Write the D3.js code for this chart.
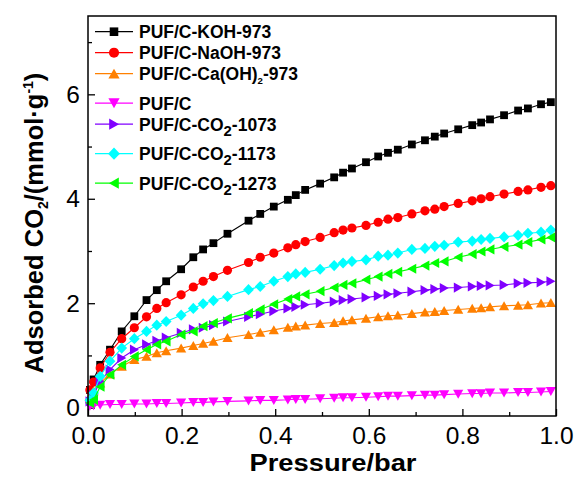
<!DOCTYPE html>
<html>
<head>
<meta charset="utf-8">
<script src="https://cdn.jsdelivr.net/npm/d3@7"></script>
<style>
  body { margin: 0; background: #fff; }
  text { font-family: Arial, "Liberation Sans", sans-serif; fill: #000; }
</style>
</head>
<body>
<svg id="chart" width="576" height="477"></svg>
<script>
// Shared pressure grid (bar)
const pressure = [0.004, 0.012, 0.026, 0.047, 0.072, 0.099, 0.125, 0.147, 0.167, 0.199,
  0.225, 0.246, 0.268, 0.298, 0.343, 0.368, 0.397, 0.427, 0.444, 0.464,
  0.496, 0.526, 0.545, 0.564, 0.594, 0.620, 0.641, 0.662, 0.692, 0.720,
  0.741, 0.761, 0.791, 0.821, 0.840, 0.859, 0.889, 0.919, 0.940, 0.968, 0.989];

// Adsorbed CO2 (mmol/g) for each sample
const kohValues = [0.34, 0.54, 0.82, 1.11, 1.46, 1.75, 2.06, 2.25, 2.42, 2.65,
  2.88, 3.03, 3.15, 3.33, 3.58, 3.71, 3.85, 3.98, 4.07, 4.17,
  4.29, 4.41, 4.50, 4.58, 4.70, 4.81, 4.88, 4.94, 5.04, 5.12,
  5.19, 5.25, 5.33, 5.41, 5.46, 5.52, 5.60, 5.69, 5.73, 5.81, 5.85];
const naohValues = [0.34, 0.49, 0.76, 1.06, 1.32, 1.53, 1.74, 1.90, 2.01, 2.16,
  2.31, 2.42, 2.51, 2.63, 2.78, 2.88, 2.96, 3.06, 3.12, 3.18,
  3.26, 3.35, 3.40, 3.44, 3.49, 3.55, 3.61, 3.64, 3.71, 3.77,
  3.80, 3.85, 3.91, 3.96, 4.00, 4.04, 4.09, 4.14, 4.17, 4.22, 4.25];
const caohValues = [0.21, 0.32, 0.47, 0.64, 0.79, 0.92, 0.98, 1.05, 1.09, 1.14,
  1.19, 1.23, 1.27, 1.34, 1.40, 1.44, 1.49, 1.54, 1.56, 1.58,
  1.61, 1.63, 1.66, 1.68, 1.71, 1.74, 1.76, 1.77, 1.80, 1.83,
  1.84, 1.86, 1.88, 1.90, 1.91, 1.93, 1.95, 1.96, 1.97, 2.00, 2.01];
const pufValues = [0.03, 0.04, 0.05, 0.06, 0.06, 0.07, 0.07, 0.08, 0.08, 0.09,
  0.10, 0.10, 0.11, 0.12, 0.13, 0.14, 0.14, 0.15, 0.16, 0.16,
  0.17, 0.18, 0.19, 0.19, 0.20, 0.21, 0.22, 0.22, 0.23, 0.24,
  0.24, 0.25, 0.26, 0.27, 0.27, 0.28, 0.28, 0.29, 0.29, 0.30, 0.31];
const co2_1073Values = [0.12, 0.24, 0.50, 0.73, 0.95, 1.11, 1.21, 1.28, 1.34, 1.43,
  1.50, 1.53, 1.58, 1.65, 1.74, 1.79, 1.85, 1.90, 1.93, 1.97,
  2.00, 2.03, 2.06, 2.08, 2.11, 2.14, 2.17, 2.19, 2.22, 2.25,
  2.27, 2.29, 2.30, 2.32, 2.33, 2.34, 2.35, 2.38, 2.39, 2.40, 2.42];
const co2_1173Values = [0.14, 0.28, 0.60, 0.89, 1.14, 1.32, 1.46, 1.58, 1.65, 1.77,
  1.90, 1.99, 2.05, 2.13, 2.26, 2.32, 2.42, 2.51, 2.56, 2.59,
  2.65, 2.72, 2.77, 2.80, 2.83, 2.90, 2.92, 2.96, 3.03, 3.05,
  3.09, 3.11, 3.17, 3.19, 3.22, 3.24, 3.27, 3.30, 3.34, 3.36, 3.40];
const co2_1273Values = [0.09, 0.15, 0.40, 0.63, 0.82, 0.98, 1.11, 1.21, 1.27, 1.40,
  1.46, 1.56, 1.62, 1.71, 1.81, 1.88, 1.98, 2.08, 2.13, 2.17,
  2.23, 2.30, 2.35, 2.38, 2.45, 2.51, 2.56, 2.60, 2.66, 2.72,
  2.77, 2.80, 2.88, 2.94, 2.99, 3.03, 3.08, 3.12, 3.17, 3.22, 3.26];

// Legend labels: [text before subscript, subscript, text after]
const seriesLabels = [
  ["PUF/C-KOH-973", "", ""],
  ["PUF/C-NaOH-973", "", ""],
  ["PUF/C-Ca(OH)", "2", "-973"],
  ["PUF/C", "", ""],
  ["PUF/C-CO", "2", "-1073"],
  ["PUF/C-CO", "2", "-1173"],
  ["PUF/C-CO", "2", "-1273"]
];
const seriesValues = [kohValues, naohValues, caohValues, pufValues,
  co2_1073Values, co2_1173Values, co2_1273Values];
const seriesColors = ["#000000", "#ff0000", "#ff8000", "#ff00ff", "#8000ff", "#00ffff", "#00ff00"];
const seriesMarkers = ["square", "circle", "up", "down", "right", "diamond", "left"];
const subscriptSizes = [0, 0, 0.55, 0, 0.85, 0.85, 0.85];

const xTicks = [0, 0.2, 0.4, 0.6, 0.8, 1.0];
const xMinorTicks = [0.1, 0.3, 0.5, 0.7, 0.9];
const yTicks = [0, 2, 4, 6];
const yMinorTicks = [1, 3, 5, 7];

(function draw() {
  const svg = d3.select("#chart");
  const pl = 88, pr = 556, pt = 16, pb = 416;

  const x = d3.scaleLinear().domain([0, 1]).range([pl, pr]);
  const y = d3.scaleLinear().domain([-0.16, 7.5]).range([pb, pt]);

  // Marker outlines, each centred on its bounding box
  function markerPath(kind) {
    switch (kind) {
      case "square": return "M-3.9,-3.9H3.9V3.9H-3.9Z";
      case "circle": return d3.symbol(d3.symbolCircle, Math.PI * 4.6 * 4.6)();
      case "up": return "M0,-4.6L5.1,4.4L-5.1,4.4Z";
      case "down": return "M0,4.6L5.1,-4.4L-5.1,-4.4Z";
      case "right": return "M4.6,0L-4.4,5.1L-4.4,-5.1Z";
      case "left": return "M-4.6,0L4.4,5.1L4.4,-5.1Z";
      case "diamond": return "M0,-5.6L5.4,0L0,5.6L-5.4,0Z";
    }
  }

  // Axes with inward ticks
  const fmt = d3.format(".1f");
  const xAxis = svg.append("g").attr("transform", `translate(0,${pb})`)
    .call(d3.axisBottom(x).tickValues(xTicks).tickSize(-7).tickPadding(10.5).tickFormat(fmt));
  svg.append("g").attr("transform", `translate(0,${pb})`)
    .call(d3.axisBottom(x).tickValues(xMinorTicks).tickSize(-4).tickFormat(""));
  const yAxis = svg.append("g").attr("transform", `translate(${pl},0)`)
    .call(d3.axisLeft(y).tickValues(yTicks).tickSize(-7).tickPadding(8).tickFormat(d3.format("d")));
  svg.append("g").attr("transform", `translate(${pl},0)`)
    .call(d3.axisLeft(y).tickValues(yMinorTicks).tickSize(-4).tickFormat(""));

  svg.selectAll(".domain").remove();
  svg.selectAll(".tick line").attr("stroke", "#000").attr("stroke-width", 1.3);
  xAxis.selectAll("text").attr("font-size", 24.5).attr("fill", "#000");
  yAxis.selectAll("text").attr("font-size", 24.5).attr("fill", "#000");

  // Series
  const plot = svg.append("g");
  seriesValues.forEach((vals, i) => {
    const pts = pressure.map((p, j) => [p, vals[j]]);
    const g = plot.append("g");
    g.append("path")
      .attr("d", d3.line().x(d => x(d[0])).y(d => y(d[1]))(pts))
      .attr("fill", "none")
      .attr("stroke", seriesColors[i])
      .attr("stroke-width", 1.1);
    g.selectAll("path.m").data(pts).enter().append("path")
      .attr("class", "m")
      .attr("d", markerPath(seriesMarkers[i]))
      .attr("transform", d => `translate(${x(d[0])},${y(d[1])})`)
      .attr("fill", seriesColors[i]);
  });

  // Plot frame
  svg.append("rect")
    .attr("x", pl).attr("y", pt)
    .attr("width", pr - pl).attr("height", pb - pt)
    .attr("fill", "none").attr("stroke", "#000").attr("stroke-width", 1.5);

  // Legend
  const legend = svg.append("g");
  let ly = 31.7;
  seriesLabels.forEach((lab, i) => {
    if (i > 0) ly += 21 + (seriesLabels[i - 1][1] ? 8.5 : 0);
    const row = legend.append("g").attr("transform", `translate(0,${ly})`);
    row.append("line").attr("x1", 95).attr("x2", 133).attr("y1", 0).attr("y2", 0)
      .attr("stroke", seriesColors[i]).attr("stroke-width", 1.3);
    row.append("path").attr("d", markerPath(seriesMarkers[i]))
      .attr("transform", "translate(114,0) scale(1.1)")
      .attr("fill", seriesColors[i]);
    const t = row.append("text").attr("x", 139).attr("y", 6.3)
      .attr("font-size", 17.5).attr("font-weight", "bold");
    t.append("tspan").text(lab[0]);
    if (lab[1]) {
      const small = subscriptSizes[i] < 0.7;
      t.append("tspan").text(lab[1])
        .attr("font-size", 17.5 * subscriptSizes[i])
        .attr("dy", small ? 4 : 5);
      t.append("tspan").text(lab[2]).attr("dy", small ? -4 : -5);
    }
  });

  // Axis titles
  svg.append("text")
    .attr("x", 333).attr("y", 470.5)
    .attr("text-anchor", "middle")
    .attr("font-size", 23).attr("font-weight", "bold")
    .attr("textLength", 167).attr("lengthAdjust", "spacingAndGlyphs")
    .text("Pressure/bar");

  const yt = svg.append("text")
    .attr("transform", "translate(43,223) rotate(-90)")
    .attr("text-anchor", "middle")
    .attr("font-size", 25.5).attr("font-weight", "bold");
  yt.append("tspan").text("Adsorbed CO");
  yt.append("tspan").text("2").attr("font-size", 14).attr("dy", 5);
  yt.append("tspan").text("/(mmol·g").attr("dy", -5);
  yt.append("tspan").text("-1").attr("font-size", 14).attr("dy", -10);
  yt.append("tspan").text(")").attr("dy", 10);
})();
</script>
</body>
</html>
